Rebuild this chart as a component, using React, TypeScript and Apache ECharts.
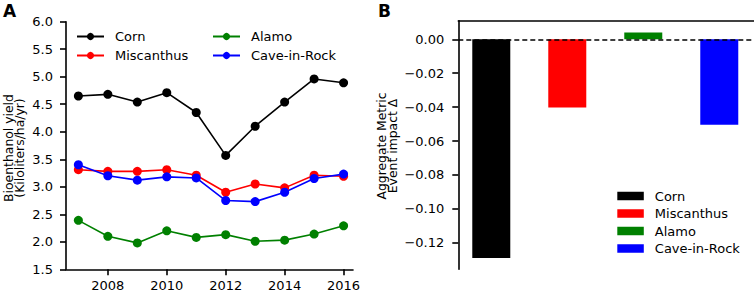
import React, { useEffect, useRef } from "react";
import * as echarts from "echarts";

const years = [2007, 2008, 2009, 2010, 2011, 2012, 2013, 2014, 2015, 2016];
const corn = [4.65, 4.68, 4.54, 4.71, 4.35, 3.57, 4.1, 4.54, 4.96, 4.89];
const miscanthus = [3.31, 3.28, 3.28, 3.31, 3.21, 2.9, 3.05, 2.98, 3.21, 3.19];
const alamo = [2.39, 2.1, 1.98, 2.2, 2.08, 2.13, 2.01, 2.03, 2.14, 2.29];
const caveInRock = [3.4, 3.2, 3.12, 3.18, 3.16, 2.75, 2.73, 2.9, 3.15, 3.23];

const yearTicks = [2008, 2010, 2012, 2014, 2016];
const yieldTicks = [1.5, 2.0, 2.5, 3.0, 3.5, 4.0, 4.5, 5.0, 5.5, 6.0];

const barNames = ["Corn", "Miscanthus", "Alamo", "Cave-in-Rock"];
const barValues = [-0.129, -0.0402, 0.0041, -0.0504];
const impactTicks = [0, -0.02, -0.04, -0.06, -0.08, -0.1, -0.12];

const colors = ["#000000", "#ff0000", "#008000", "#0000ff"];
const FONT = "DejaVu Sans";

export default function App() {
  const ref = useRef<HTMLDivElement>(null);
  useEffect(() => {
    if (!ref.current) return;
    const chart = echarts.init(ref.current, undefined, { renderer: "svg" });
    const lineSets = [corn, miscanthus, alamo, caveInRock];
    const axisLine = { show: true, onZero: false, lineStyle: { color: "#000", width: 1.6 } };
    const axisTick = { show: true, length: 6, inside: false, lineStyle: { color: "#000", width: 1.6 } };
    const labelStyle = { color: "#000", fontFamily: FONT, fontSize: 13 };

    const lineSeries = barNames.map((name, i) => ({
      type: "line",
      name,
      xAxisIndex: 0,
      yAxisIndex: 0,
      data: years.map((y, j) => [y, lineSets[i][j]]),
      symbol: "circle",
      symbolSize: 9,
      lineStyle: { color: colors[i], width: 1.6 },
      itemStyle: { color: colors[i] },
    }));

    const barSeries = barNames.map((name, i) => ({
      type: "bar",
      name: name + " ",
      xAxisIndex: 1,
      yAxisIndex: 1,
      data: [[i, barValues[i]]],
      barWidth: 38,
      barGap: "-100%",
      itemStyle: { color: colors[i] },
      markLine:
        i === 3
          ? {
              silent: true,
              symbol: "none",
              label: { show: false },
              lineStyle: { color: "#000", type: [5, 3], width: 1.5 },
              data: [{ yAxis: 0 }],
              z: 10,
            }
          : undefined,
    }));

    const option = {
      animation: false,
      textStyle: { fontFamily: FONT },
      grid: [
        { left: 66, top: 21.7, width: 287, height: 247.6 },
        { left: 458.3, top: 20.7, right: 0, height: 248.6 },
      ],
      xAxis: [
        {
          type: "value",
          gridIndex: 0,
          min: 2006.58,
          max: 2016.32,
          splitLine: { show: false },
          axisLine,
          axisTick: { ...axisTick, customValues: yearTicks },
          axisLabel: { ...labelStyle, margin: 10, customValues: yearTicks, formatter: (v: number) => String(v) },
        },
        {
          type: "value",
          gridIndex: 1,
          position: "top",
          min: -0.434,
          max: 3.457,
          splitLine: { show: false },
          axisLine,
          axisTick: { show: false },
          axisLabel: { show: false },
        },
      ],
      yAxis: [
        {
          type: "value",
          gridIndex: 0,
          min: 1.5,
          max: 6.0,
          splitLine: { show: false },
          axisLine,
          axisTick: { ...axisTick, customValues: yieldTicks },
          axisLabel: { ...labelStyle, margin: 13, customValues: yieldTicks, formatter: (v: number) => v.toFixed(1) },
        },
        {
          type: "value",
          gridIndex: 1,
          min: -0.1357,
          max: 0.011,
          splitLine: { show: false },
          axisLine,
          axisTick: { ...axisTick, customValues: impactTicks },
          axisLabel: {
            ...labelStyle,
            margin: 14,
            customValues: impactTicks,
            formatter: (v: number) => (Math.abs(v) < 1e-9 ? "0.00" : (v < 0 ? "\u2212" : "") + Math.abs(v).toFixed(2)),
          },
        },
      ],
      legend: [
        {
          data: ["Corn", "Miscanthus"],
          orient: "vertical",
          left: 76,
          top: 30,
          padding: 0,
          itemWidth: 27,
          itemHeight: 9,
          itemGap: 6,
          textStyle: { ...labelStyle, padding: [0, 0, 0, 6] },
        },
        {
          data: ["Alamo", "Cave-in-Rock"],
          orient: "vertical",
          left: 212,
          top: 30,
          padding: 0,
          itemWidth: 27,
          itemHeight: 9,
          itemGap: 6,
          textStyle: { ...labelStyle, padding: [0, 0, 0, 6] },
        },
        {
          data: barNames.map((n) => ({ name: n + " ", icon: "rect" })),
          orient: "vertical",
          left: 617.3,
          top: 189.5,
          padding: 0,
          itemWidth: 26.5,
          itemHeight: 8.5,
          itemGap: 4.5,
          textStyle: { ...labelStyle, padding: [0, 0, 0, 6] },
        },
      ],
      graphic: [
        {
          type: "text",
          left: 3,
          top: 2,
          style: { text: "A", font: `bold 17px "${FONT}"`, fill: "#000" },
        },
        {
          type: "text",
          left: 378,
          top: 2,
          style: { text: "B", font: `bold 17px "${FONT}"`, fill: "#000" },
        },
        {
          type: "text",
          x: 14,
          y: 148,
          rotation: Math.PI / 2,
          style: {
            text: "Bioenthanol yield\n(Kiloliters/ha/yr)",
            font: `12.4px "${FONT}"`,
            fill: "#000",
            align: "center",
            verticalAlign: "middle",
            lineHeight: 11.5,
          },
        },
        {
          type: "text",
          x: 387,
          y: 146,
          rotation: Math.PI / 2,
          style: {
            text: "Aggregate Metric\nEvent impact \u0394",
            font: `12.4px "${FONT}"`,
            fill: "#000",
            align: "center",
            verticalAlign: "middle",
            lineHeight: 11.5,
          },
        },
      ],
      series: [...lineSeries, ...barSeries],
    };
    chart.setOption(option as any);
    return () => chart.dispose();
  }, []);
  return (
    <div
      ref={ref}
      style={{ position: "fixed", left: 0, top: 0, width: 754, height: 293, background: "#fff" }}
    />
  );
}
